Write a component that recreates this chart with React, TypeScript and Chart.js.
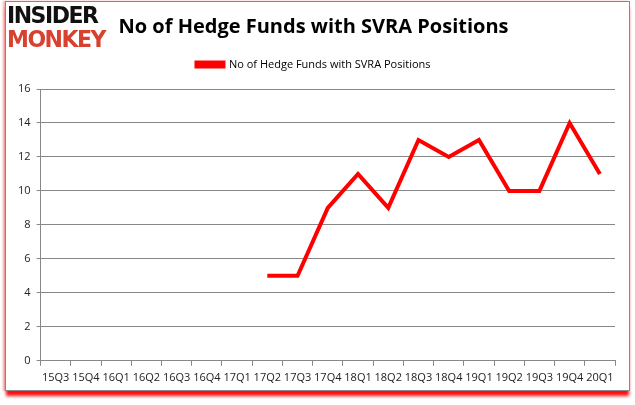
import React, { useEffect, useRef } from "react";
import { Chart, registerables } from "chart.js";

Chart.register(...registerables);

const categories = ["15Q3","15Q4","16Q1","16Q2","16Q3","16Q4","17Q1","17Q2","17Q3","17Q4","18Q1","18Q2","18Q3","18Q4","19Q1","19Q2","19Q3","19Q4","20Q1"];
const hedgeFunds: (number | null)[] = [null,null,null,null,null,null,null,5,5,9,11,9,13,12,13,10,10,14,11];
const seriesLabel = "No of Hedge Funds with SVRA Positions";
const titleText = "No of Hedge Funds with SVRA Positions";

const legendMargin = {
  id: "legendMargin",
  beforeInit(chart: any) {
    const legend = chart.legend;
    if (!legend) return;
    const origFit = legend.fit;
    legend.fit = function () {
      origFit.bind(legend)();
      this.height += 9;
    };
  },
};

export default function App() {
  const ref = useRef<HTMLCanvasElement | null>(null);
  useEffect(() => {
    if (!ref.current) return;
    const chart = new Chart(ref.current, {
      type: "line",
      data: {
        labels: categories,
        datasets: [{
          label: seriesLabel,
          data: hedgeFunds,
          borderColor: "#ff0000",
          backgroundColor: "#ff0000",
          borderWidth: 4,
          pointRadius: 0,
          tension: 0,
          spanGaps: false,
        }],
      },
      plugins: [legendMargin],
      options: {
        animation: false,
        responsive: false,
        layout: { padding: { left: 12, right: 20, top: 6, bottom: 16 } },
        plugins: {
          title: {
            display: true,
            text: titleText,
            color: "#000",
            font: { family: "Open Sans", size: 20, weight: "bold" },
            padding: { top: 9, bottom: 12 },
          },
          legend: {
            display: true,
            labels: {
              boxWidth: 27,
              boxHeight: 4,
              color: "#000",
              font: { family: "Open Sans", size: 11 },
              padding: 8,
            },
          },
          tooltip: { enabled: false },
        },
        scales: {
          x: {
            offset: true,
            grid: { display: true, drawOnChartArea: false, offset: true, color: "#888", tickLength: 5 },
            border: { color: "#888" },
            ticks: { autoSkip: false, maxRotation: 0, minRotation: 0, color: "#222", font: { family: "Open Sans", size: 11 }, padding: 5 },
          },
          y: {
            min: 0,
            max: 16,
            ticks: { stepSize: 2, color: "#222", font: { family: "Open Sans", size: 11 }, padding: 6 },
            grid: { color: "#888", tickLength: 4 },
            border: { color: "#888" },
          },
        },
      },
    });
    return () => chart.destroy();
  }, []);

  return (
    <div style={{ position: "absolute", left: 0, top: 0, width: 635, height: 405, background: "#fff", overflow: "hidden" }}>
      <div style={{ position: "absolute", left: 5, top: 1, width: 623, height: 388, border: "1px solid #888", boxShadow: "0 6px 3px -1px #ff1010, -2px 0 2px #f4b0b0", background: "#fff" }} />
      <canvas ref={ref} width={635} height={405} style={{ position: "absolute", left: 0, top: 0, width: 635, height: 405 }} />
      <div style={{ position: "absolute", left: 7, top: 4, fontFamily: "DejaVu Sans", fontWeight: 900, lineHeight: "23px", fontSize: 22, letterSpacing: -1.5, transform: "scaleY(1.05)" }}>
        <div style={{ color: "#111" }}>INSIDER</div>
        <div style={{ color: "#d8412f" }}>MONKEY</div>
      </div>
    </div>
  );
}
